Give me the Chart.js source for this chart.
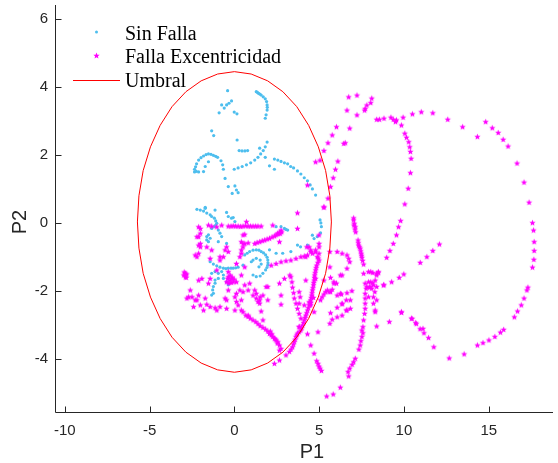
<!DOCTYPE html>
<html><head><meta charset="utf-8">
<script src="https://cdn.jsdelivr.net/npm/chart.js@4.4.1/dist/chart.umd.min.js"></script>
<style>html,body{margin:0;padding:0;background:#fff;}canvas{display:block;}</style>
</head><body>
<canvas id="c" width="558" height="463"></canvas>
<script>
const xTicks = [-10, -5, 0, 5, 10, 15];
const yTicks = [-4, -2, 0, 2, 4, 6];
const xRange = [-10.58, 18.79];
const yRange = [-5.60, 6.41];
const seriesNames = ['Sin Falla', 'Falla Excentricidad', 'Umbral'];
const axisTitles = ['P1', 'P2'];

const sinFalla = [
[-0.40,3.89],[-0.90,3.24],[-0.75,3.47],[-0.60,3.38],[-0.46,3.47],[-0.32,3.52],[-0.17,3.59],[-0.01,3.26],[0.15,3.21],
[1.29,3.86],[1.36,3.84],[1.43,3.81],[1.50,3.79],[1.58,3.76],[1.70,3.71],[1.82,3.65],[1.90,3.57],[1.93,3.47],[1.94,3.40],[1.93,3.32],[1.87,3.18],[1.82,3.08],
[-1.34,2.71],[-1.22,2.57],[0.16,2.44],
[0.28,2.13],[0.45,2.12],[0.62,2.12],[0.78,2.13],
[1.93,2.38],[1.82,2.24],[1.70,2.13],[1.55,2.03],[1.39,1.93],[1.20,1.85],[0.96,1.77],[0.71,1.71],[0.46,1.66],[0.22,1.62],[-0.01,1.58],[1.49,2.20],[1.82,1.93],
[2.36,1.88],[2.56,1.85],[2.75,1.81],[2.95,1.77],[3.14,1.74],[3.32,1.66],[3.49,1.62],[3.72,1.53],[3.92,1.44],[4.12,1.33],[4.31,1.24],[4.47,1.12],[4.60,1.00],[4.79,0.82],[2.07,1.68],[2.36,1.58],
[-0.55,1.31],
[-2.35,1.58],[-2.23,1.74],[-2.11,1.85],[-1.97,1.92],[-1.82,1.97],[-1.67,2.01],[-1.53,2.03],[-1.38,2.02],[-1.24,1.99],[-1.10,1.96],[-0.99,1.93],[-0.79,1.83],[-0.69,1.71],[-0.65,1.58],
[-2.35,1.50],[-2.11,1.50],[-1.82,1.51],[-1.72,1.66],[-1.53,1.80],[-2.29,1.65],[-2.25,1.52],
[-0.36,1.07],[0.03,1.09],[0.12,0.97],[0.22,0.89],[-0.13,0.87],
[5.05,0.09],[5.10,0.00],[5.13,-0.11],[5.08,-0.29],[4.89,-0.40],[4.70,-0.46],[4.60,-0.36],
[3.72,-0.65],[3.90,-0.70],[4.31,-0.65],
[-2.21,0.40],[-2.01,0.38],[-1.82,0.35],[-1.63,0.29],[-1.43,0.24],[-1.34,0.19],[-1.18,0.14],[-1.10,0.06],[-1.04,-0.01],[-1.10,-0.06],[-1.18,-0.11],[-1.34,-0.16],[-1.72,0.43],[-1.14,0.38],[-1.72,0.46],
[-0.46,0.31],[-0.36,0.19],[-0.17,0.14],[-0.07,0.16],[0.03,0.04],
[-0.95,-0.21],[-0.85,-0.30],[-0.75,-0.40],[-1.53,-0.35],[-1.43,-0.45],
[2.75,-0.11],[2.95,-0.16],[3.14,-0.21],[2.46,-0.11],[3.04,-0.19],
[0.61,-0.94],[0.75,-0.89],[0.90,-0.84],[1.10,-0.80],[1.29,-0.79],[1.45,-0.80],[1.58,-0.84],[1.72,-0.88],[1.84,-0.94],[1.93,-1.01],[1.97,-1.09],[1.98,-1.17],[1.97,-1.24],[1.92,-1.31],[1.84,-1.38],[1.68,-1.48],[1.52,-1.56],[1.29,-1.58],[1.10,-1.53],
[1.10,-1.09],[1.29,-1.04],[1.52,-1.09],[1.58,-1.21],[1.45,-1.29],[1.00,-1.14],
[-1.43,-1.14],[-1.24,-1.21],[-1.04,-1.26],[-0.85,-1.30],[-0.65,-1.33],[-0.50,-1.34],[-0.36,-1.33],[-0.20,-1.33],[-0.07,-1.33],[0.08,-1.32],[0.22,-1.30],[0.51,-1.24],
[-1.63,-0.50],[-0.95,-0.55],[-0.46,-0.60],
[-1.34,-1.48],[-1.14,-1.43],[-0.95,-1.48],[-0.75,-1.43],[-0.65,-1.53],[-0.95,-1.63],[-1.14,-1.68],[-1.14,-1.77],[-1.24,-1.87],[-1.28,-1.97],[-1.24,-2.07],[-1.34,-2.12],[-0.65,-1.63],[-0.46,-1.73],[-0.36,-1.82],
[2.07,-0.79],[2.46,-0.89],[2.85,-0.89],[3.33,-0.84],
[-1.63,-0.40],[-1.53,-0.55]
];

const fallaExc = [
[-1.34,-0.09],[-1.04,-0.11],[-0.75,-0.06],[-0.36,-0.09],[-0.20,-0.09],[-0.07,-0.08],[0.07,-0.09],[0.22,-0.09],[0.37,-0.10],[0.51,-0.09],[0.66,-0.08],[0.81,-0.09],[0.95,-0.09],[1.10,-0.09],[1.25,-0.09],[1.39,-0.09],[1.58,-0.09],
[-2.01,-0.16],[-1.53,-0.06],[0.71,0.04],[2.26,-0.06],[3.72,0.30],[3.72,-0.16],[5.28,0.48],[4.31,1.12],
[1.20,-0.60],[1.34,-0.57],[1.49,-0.55],[1.64,-0.52],[1.78,-0.50],[1.93,-0.47],[2.07,-0.45],[2.22,-0.41],[2.36,-0.38],[2.46,-0.35],[2.56,-0.32],[2.66,-0.27],[2.79,-0.26],[2.75,-0.21],[2.70,-0.31],[2.66,-0.55],[2.56,-0.30],
[0.61,-0.33],[0.51,-0.35],[0.51,-0.60],[-2.11,-0.40],
[2.17,-1.24],[2.46,-1.19],[2.75,-1.14],[3.04,-1.11],[3.33,-1.09],[3.63,-1.04],[3.92,-0.99],[4.12,-0.97],[4.31,-0.94],[4.60,-0.89],[4.79,-0.79],[4.99,-0.70],[4.99,-0.60],[4.99,-0.35],
[4.41,-0.70],[4.50,-0.79],[4.79,-0.85],[4.99,-0.89],[4.89,-0.99],[4.99,-1.09],[4.85,-1.24],[4.79,-1.38],[4.73,-1.53],[4.70,-1.68],[4.66,-1.82],[4.60,-1.97],[4.56,-2.12],[4.50,-2.26],[4.41,-2.41],[4.31,-2.56],[4.21,-2.71],[4.12,-2.85],[4.02,-3.00],[3.92,-3.15],[3.72,-3.24],[3.63,-3.34],[3.53,-3.49],[3.43,-3.64],[3.24,-3.78],[3.04,-3.88],[2.66,-4.03],[2.36,-4.13],
[4.95,-1.03],[4.92,-1.16],[4.82,-1.31],[4.76,-1.46],[4.72,-1.60],[4.68,-1.75],[4.63,-1.90],[4.58,-2.05],[4.53,-2.19],[4.46,-2.34],[4.36,-2.49],[4.26,-2.64],[4.17,-2.78],[4.07,-2.93],[3.97,-3.08],[3.82,-3.20],[3.68,-3.29],[3.58,-3.42],[3.48,-3.56],[3.34,-3.71],
[3.33,-1.58],[3.39,-1.73],[3.43,-1.89],[3.49,-2.05],[3.53,-2.21],[3.63,-2.36],[3.72,-2.51],[3.82,-2.66],[3.92,-2.80],[3.82,-2.02],[3.88,-2.17],[3.82,-2.36],[3.82,-3.05],[3.27,-1.53],[4.21,-1.68],[4.50,-0.84],[4.21,-0.99],[4.27,-0.70],
[6.02,2.83],[5.77,2.59],[5.52,2.36],[5.28,2.13],[5.05,1.85],[4.79,1.80],[6.10,1.82],[5.96,1.58],[5.83,1.33],[5.67,1.07],[5.52,0.73],[5.28,0.46],[6.45,2.34],[6.80,2.79],[6.64,3.32],[7.23,3.18],[6.74,3.71],[7.23,3.76],[8.10,3.67],[8.04,3.54],[7.81,3.47],[7.71,3.37],[7.68,3.32],[6.54,2.36],
[8.39,3.05],[8.55,3.05],[8.82,3.08],[9.23,3.11],[9.37,3.05],[9.50,2.98],[9.56,3.03],[9.85,2.88],[10.05,2.64],[10.15,2.52],[10.28,2.39],[10.34,2.24],[10.38,2.10],[10.42,1.90],[10.38,1.48],[10.25,1.02],[10.05,0.56],[9.80,0.07],[9.68,-0.11],[9.56,-0.35],[9.37,-0.60],[9.17,-0.81],[8.98,-1.01],[8.49,-1.46],[8.39,-1.53],
[9.95,3.11],[10.50,3.21],[11.02,3.27],[11.70,3.24],[12.58,3.05],[13.46,2.83],[14.33,2.54],[14.82,2.98],[15.21,2.80],[15.56,2.66],[15.85,2.46],[16.14,2.26],[16.67,1.76],[17.08,1.20],[17.38,0.61],[17.58,0.01],[17.64,-0.21],[17.68,-0.55],[17.68,-0.81],[17.66,-1.07],[17.58,-1.30],[17.31,-1.89],[17.25,-1.97],[17.08,-2.21],[16.92,-2.41],[16.70,-2.59],[16.51,-2.76],[15.88,-3.13],[15.69,-3.21],[15.36,-3.34],[15.01,-3.44],[14.66,-3.52],[14.33,-3.59],[13.55,-3.85],[12.67,-3.97],
[11.76,-3.64],[11.45,-3.37],[11.18,-3.23],[10.95,-3.11],[10.73,-2.96],[10.48,-2.81],[9.85,-2.63],[9.14,-2.90],[8.39,-3.03],
[12.09,-0.62],[11.70,-0.81],[11.35,-0.99],[10.96,-1.16],[9.99,-1.50],[9.72,-1.60],[9.27,-1.73],[8.82,-1.82],[8.39,-1.87],
[7.03,0.09],[7.07,-0.01],[7.13,-0.11],[7.15,-0.26],[7.03,0.15],[7.05,-0.06],[7.11,-0.18],[7.29,-0.50],[7.33,-0.65],[7.42,-0.74],[7.48,-0.89],[7.52,-1.01],[7.62,-1.21],[7.62,-1.48],[7.71,-1.77],[7.77,-1.92],[7.71,-2.07],[7.71,-2.21],[7.71,-2.36],[7.71,-2.51],[7.68,-2.66],[7.62,-2.85],[7.58,-3.05],[7.52,-3.15],[7.58,-3.23],[7.52,-3.34],[7.46,-3.46],[7.42,-3.59],[7.34,-3.71],[7.13,-3.98],[7.03,-4.08],[6.94,-4.16],[6.80,-4.27],[6.70,-4.37],[6.74,-4.50],[7.31,-0.58],[7.38,-0.70],[7.45,-0.82],[7.50,-0.95],[7.56,-1.10],
[6.25,-4.83],[5.83,-5.03],[5.44,-5.09],
[4.31,-3.26],[4.50,-3.59],[4.70,-3.83],[4.85,-4.05],[4.93,-4.13],[4.99,-4.21],[5.05,-4.27],[5.13,-4.34],[4.93,-3.20],
[7.91,-1.43],[8.04,-1.43],[8.16,-1.46],[8.39,-1.48],[8.49,-1.43],[7.91,-1.73],[7.81,-1.87],[8.00,-1.87],[8.20,-1.82],[8.30,-1.68],[8.04,-1.73],[8.16,-1.76],[8.28,-2.02],[8.20,-2.17],[7.91,-2.17],[7.97,-1.89],[8.10,-1.92],[8.30,-2.56],[8.39,-2.26],[8.20,-2.36],[8.30,-2.61],[8.79,-1.82],
[9.85,-2.61],[10.44,-2.80],[10.69,-2.93],[11.12,-3.10],
[6.93,-1.99],[6.64,-2.05],[6.31,-2.09],[6.35,-2.38],[6.06,-2.48],[5.67,-2.64],[5.63,-2.95],[6.84,-2.51],[6.60,-2.56],[6.35,-2.71],[6.06,-2.76],[5.77,-2.83],
[5.63,-0.84],[6.06,-0.84],[6.35,-0.89],[6.64,-0.94],[6.74,-1.04],[6.80,-1.14],[6.64,-1.33],[6.35,-1.53],[6.25,-1.53],
[5.67,-1.60],[6.02,-1.77],[5.87,-1.77],[5.77,-1.95],[5.58,-2.02],[5.48,-1.97],[5.38,-2.02],[5.28,-1.68],[5.63,-1.29],[4.70,-2.61],[4.50,-2.41],[4.41,-2.32],[4.66,-2.19],
[5.67,-2.02],[5.28,-2.09],[5.08,-2.26],[5.18,-2.17],[6.25,-2.07],[6.06,-2.12],[6.35,-2.36],[6.64,-2.56],[6.84,-2.26],[6.60,-2.26],[5.87,-1.73],
[0.03,-2.56],[0.22,-2.41],[0.41,-2.56],[0.51,-2.61],[0.67,-2.71],[0.81,-2.75],[0.94,-2.80],[1.10,-2.85],[1.26,-2.90],[1.39,-2.96],[1.52,-3.02],[1.68,-3.07],[1.84,-3.12],[1.97,-3.18],[2.07,-3.25],[2.17,-3.29],[2.26,-3.34],[2.36,-3.39],[2.46,-3.44],[2.56,-3.49],[2.66,-3.59],[2.75,-3.69],[2.66,-3.74],[2.12,-3.18],[2.21,-3.26],[2.41,-3.41],[2.53,-3.53],[1.68,-2.85],[1.58,-2.59],[2.75,-2.39],
[-2.70,-2.17],[-2.31,-2.26],[-1.72,-2.21],[-1.63,-2.39],[-1.43,-2.46],[-1.14,-2.49],[-0.85,-2.46],[-0.55,-2.21],[-0.46,-2.51],[-1.82,-2.56],[-2.41,-2.46],[1.29,-2.21],[1.39,-2.31],[1.49,-2.36],
[-2.11,-0.65],[-1.63,-0.70],[-1.34,-0.79],[-2.21,-0.99],[-0.46,-0.70],[-0.36,-0.84],[-0.65,-0.99],[-0.85,-0.99],[0.41,-0.79],[0.51,-0.70],[0.32,-0.99],[0.12,-1.19],[0.61,-1.29],
[-2.89,-1.48],[-2.99,-1.53],[-2.89,-1.58],[-2.81,-1.50],[-2.96,-1.44],[-2.84,-1.60],
[-1.92,-1.63],[-2.11,-1.68],[-1.53,-1.77],
[-0.36,-1.58],[-0.17,-1.63],[-0.07,-1.73],[-0.26,-1.68],[-0.46,-1.73],[-0.25,-1.53],[-0.13,-1.59],[-0.39,-1.63],[-0.19,-1.75],[-0.01,-1.65],[-0.33,-1.76],
[0.41,-1.53],[0.12,-1.73],[-0.36,-1.97],[0.12,-2.07],[0.51,-2.02],[0.81,-1.97],[1.20,-1.97],[1.10,-2.12],[1.52,-2.17],[1.97,-1.87],[-2.60,-1.97],[-2.11,-2.12],[-2.80,-2.21],
[-2.21,-0.40],[-2.01,-0.60],[-2.11,-0.89],[-2.31,-0.94],[-2.01,-0.70],[-1.43,-1.04],[-0.85,-1.09],[-1.04,-1.38],[-0.36,-1.43],[-1.43,-1.63],[-2.50,-2.17],[-2.21,-2.26],[-2.01,-2.41],[-1.04,-2.56],[-0.46,-2.26],[0.03,-2.17],[0.41,-2.26],[0.12,-2.31],[0.32,-1.97],[0.61,-1.82],[0.90,-1.77],[1.29,-2.07],[1.49,-2.26],[1.68,-2.12],[1.87,-1.87],[2.75,-2.12],[2.95,-1.63],[2.66,-1.77],[1.97,-2.26],[0.81,-2.71],
[-2.11,-0.11],[-2.01,-0.30],[-0.55,-0.79],[0.41,-0.55],[0.61,-0.60],[0.81,-0.58],[0.41,-0.89],
[4.79,-1.63],[4.12,-2.41],[4.50,-2.34],[3.82,-3.05]
];

const umbral = [
[5.72,0.03],[5.63,0.80],[5.38,1.54],[4.95,2.24],[4.38,2.87],[3.68,3.42],[2.86,3.86],[1.96,4.18],[0.99,4.38],[0,4.45],
[-0.99,4.38],[-1.96,4.18],[-2.86,3.86],[-3.68,3.42],[-4.38,2.87],[-4.95,2.24],[-5.38,1.54],[-5.63,0.80],[-5.72,0.03],
[-5.63,-0.74],[-5.38,-1.48],[-4.95,-2.18],[-4.38,-2.81],[-3.68,-3.36],[-2.86,-3.80],[-1.96,-4.12],[-0.99,-4.32],[0,-4.39],
[0.99,-4.32],[1.96,-4.12],[2.86,-3.80],[3.68,-3.36],[4.38,-2.81],[4.95,-2.18],[5.38,-1.48],[5.63,-0.74],[5.72,0.03]
];

const toXY = arr => arr.map(p => ({x: p[0], y: p[1]}));

function makeStar(R, color) {
  const s = Math.ceil(R * 2 + 2);
  const c = document.createElement('canvas');
  c.width = s; c.height = s;
  const g = c.getContext('2d');
  g.fillStyle = color;
  g.beginPath();
  const cx = s / 2, cy = s / 2 + R * 0.1;
  for (let i = 0; i < 10; i++) {
    const r = (i % 2) ? R * 0.45 : R;
    const a = -Math.PI / 2 + i * Math.PI / 5;
    g.lineTo(cx + r * Math.cos(a), cy + r * Math.sin(a));
  }
  g.closePath();
  g.fill();
  return c;
}
const starImg = makeStar(3.3, 'rgb(255,0,255)');
const cyan = 'rgb(77,190,238)';
const magenta = 'rgb(255,0,255)';
const red = 'rgb(255,0,0)';
const axisColor = '#262626';

const decor = {
  id: 'decor',
  afterDraw(chart) {
    const {ctx, chartArea: a, scales: {x, y}} = chart;
    ctx.save();
    ctx.strokeStyle = axisColor;
    ctx.lineWidth = 1;
    const L = Math.round(a.left) + 0.5, B = Math.round(a.bottom) - 0.5;
    ctx.beginPath();
    ctx.moveTo(L, a.top); ctx.lineTo(L, B); ctx.lineTo(a.right, B);
    xTicks.forEach(v => { const px = Math.round(x.getPixelForValue(v)) + 0.5; ctx.moveTo(px, B); ctx.lineTo(px, B - 6); });
    yTicks.forEach(v => { const py = Math.round(y.getPixelForValue(v)) + 0.5; ctx.moveTo(L, py); ctx.lineTo(L + 6, py); });
    ctx.stroke();
    ctx.fillStyle = axisColor;
    ctx.font = '20px "Liberation Sans", Arial, sans-serif';
    ctx.textAlign = 'center';
    ctx.textBaseline = 'alphabetic';
    ctx.fillText(axisTitles[0], 312, 458);
    ctx.save();
    ctx.translate(26, 222);
    ctx.rotate(-Math.PI / 2);
    ctx.fillText(axisTitles[1], 0, 0);
    ctx.restore();
    ctx.fillStyle = cyan;
    ctx.beginPath(); ctx.arc(96.5, 32, 1.5, 0, Math.PI * 2); ctx.fill();
    ctx.drawImage(starImg, 96.5 - starImg.width / 2, 55.5 - starImg.height / 2);
    ctx.strokeStyle = red; ctx.lineWidth = 1;
    ctx.beginPath(); ctx.moveTo(73, 80.5); ctx.lineTo(120, 80.5); ctx.stroke();
    ctx.fillStyle = '#000';
    ctx.font = '20px "Liberation Serif", "Times New Roman", serif';
    ctx.textAlign = 'left';
    ctx.fillText(seriesNames[0], 125, 39.5);
    ctx.fillText(seriesNames[1], 125, 63);
    ctx.fillText(seriesNames[2], 125, 86.5);
    ctx.restore();
  }
};

new Chart(document.getElementById('c'), {
  type: 'scatter',
  data: {
    datasets: [
      {label: seriesNames[0], data: toXY(sinFalla), pointStyle: 'circle', pointRadius: 1.6, pointBorderWidth: 0, backgroundColor: cyan, borderColor: cyan, order: 3},
      {label: seriesNames[1], data: toXY(fallaExc), pointStyle: starImg, pointRadius: 3, backgroundColor: magenta, borderColor: magenta, order: 2},
      {label: seriesNames[2], data: toXY(umbral), showLine: true, pointRadius: 0, borderColor: red, borderWidth: 1, tension: 0, fill: false, order: 1}
    ]
  },
  options: {
    responsive: false,
    animation: false,
    events: [],
    layout: {padding: {top: 5, right: 0, left: 0, bottom: 0}},
    plugins: {legend: {display: false}, tooltip: {enabled: false}},
    scales: {
      x: {
        type: 'linear', min: xRange[0], max: xRange[1],
        grid: {display: false, drawTicks: false, tickLength: 0},
        border: {display: false},
        afterBuildTicks: s => { s.ticks = xTicks.map(v => ({value: v})); },
        afterFit: s => { s.height = 463 - 413.4; s.paddingLeft = 0; s.paddingRight = 0; },
        ticks: {color: axisColor, padding: 8, autoSkip: false, maxRotation: 0, font: {family: '"Liberation Sans", Arial, sans-serif', size: 15}}
      },
      y: {
        type: 'linear', min: yRange[0], max: yRange[1],
        grid: {display: false, drawTicks: false, tickLength: 0},
        border: {display: false},
        afterBuildTicks: s => { s.ticks = yTicks.map(v => ({value: v})); },
        afterFit: s => { s.width = 55; s.paddingTop = 0; s.paddingBottom = 0; },
        ticks: {color: axisColor, padding: 7, autoSkip: false, font: {family: '"Liberation Sans", Arial, sans-serif', size: 15}}
      }
    }
  },
  plugins: [decor]
});
</script>
</body></html>
